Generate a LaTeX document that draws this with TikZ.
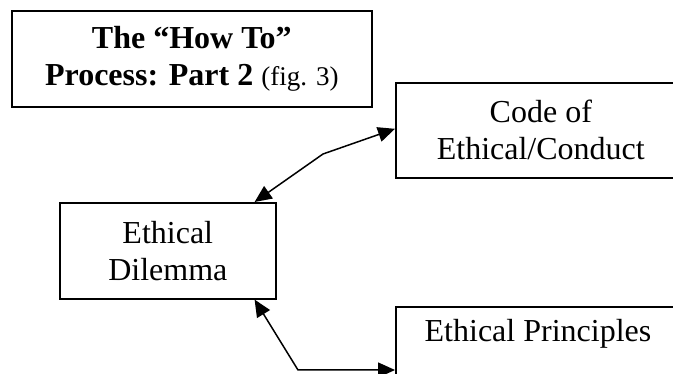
\documentclass[tikz,border=0pt]{standalone}
\usepackage{fontspec}
\setmainfont{Liberation Serif}
\usetikzlibrary{arrows.meta,positioning}

\tikzset{
  box/.style={draw=black, line width=1.6pt, rectangle, anchor=north west,
    inner sep=0pt, align=center, font=\fontsize{32}{37}\selectfont},
  label text/.style={align=center, inner sep=0pt, font=\fontsize{32}{37}\selectfont},
  link/.style={line width=1.5pt, {Triangle[length=17pt,width=15pt]}-{Triangle[length=17pt,width=15pt]}}
}

\begin{document}
\begin{tikzpicture}[x=1pt, y=-1pt]
  \useasboundingbox (0,0) rectangle (673,374);
  \clip (0,0) rectangle (673,374);

  % title
  \node[box, minimum width=360pt, minimum height=96pt] (title) at (11,10)
    {\bfseries The \textquotedblleft How To\textquotedblright\\
     \bfseries Process: Part 2 {\mdseries\fontsize{27}{37}\selectfont (fig. 3)}};

  % boxes
  \node[box, minimum width=290pt, minimum height=95pt] (code) at (395,82)
    {Code of\\Ethical/Conduct};
  \node[box, minimum width=216pt, minimum height=96pt] (dilemma) at (59,202)
    {Ethical\\Dilemma};
  \node[box, minimum width=290pt, minimum height=100pt] (principles) at (395,306) {};
  \node[label text] (principlestext) at (538,334) {Ethical Principles};

  % connectors
  \coordinate (bendA) at (323,154);
  \coordinate (bendB) at (298,370);
  \draw[link] ([xshift=-22pt]dilemma.north east) -- (bendA) -- ([yshift=1.5pt]code.west);
  \draw[link] ([xshift=-22pt]dilemma.south east) -- (bendB) -- (bendB -| principles.west);
\end{tikzpicture}
\end{document}
